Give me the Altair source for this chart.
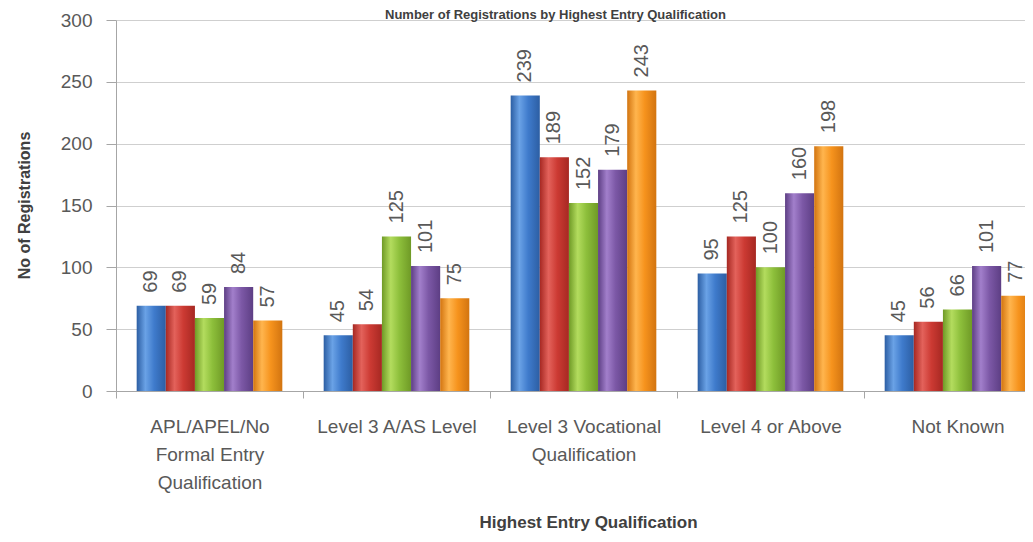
import altair as alt
import pandas as pd

categories = [
    "APL/APEL/No\nFormal Entry\nQualification",
    "Level 3 A/AS Level",
    "Level 3 Vocational\nQualification",
    "Level 4 or Above",
    "Not Known",
]
series = ["2006/07", "2007/08", "2008/09", "2009/10", "2010/11"]
s1 = [69, 45, 239, 95, 45]
s2 = [69, 54, 189, 125, 56]
s3 = [59, 125, 152, 100, 66]
s4 = [84, 101, 179, 160, 101]
s5 = [57, 75, 243, 198, 77]
# (edge, light, mid) shades per series
shades = [
    ("#2c5ea3", "#6aa2e6", "#3f7bcc"),
    ("#a62822", "#e3625b", "#cc3a33"),
    ("#6f9a26", "#b3dc5e", "#8dbf3b"),
    ("#5d3e84", "#a27fcb", "#7c58a6"),
    ("#d27410", "#ffb54e", "#f6931d"),
]
y_ticks = [0, 50, 100, 150, 200, 250, 300]

rows = []
for name, vals in zip(series, [s1, s2, s3, s4, s5]):
    for cat, v in zip(categories, vals):
        rows.append({"category": cat, "series": name, "value": v})
df = pd.DataFrame(rows)

FONT = "Liberation Sans, Arial, sans-serif"
GREY = "#595959"

x_enc = alt.X(
    "category:N",
    sort=categories,
    scale=alt.Scale(range=[0, 935], paddingInner=0, paddingOuter=0),
    axis=alt.Axis(
        title="Highest Entry Qualification",
        labelAngle=0,
        labelExpr="split(datum.label, '\\n')",
        labelFont=FONT,
        labelFontSize=19,
        labelColor=GREY,
        labelLineHeight=28,
        labelPadding=19,
        labelBaseline="top",
        tickBand="extent",
        tickSize=7,
        tickColor="#a6a6a6",
        domainColor="#a6a6a6",
        titleFont=FONT,
        titleFontSize=17,
        titleFontWeight="bold",
        titleColor="#404040",
        titleX=472,
        titleY=131,
        titleAlign="center",
        titleBaseline="middle",
    ),
)
xo_enc = alt.XOffset(
    "series:N", sort=series, scale=alt.Scale(domain=series, paddingInner=0, paddingOuter=0.71)
)
y_enc = alt.Y(
    "value:Q",
    scale=alt.Scale(domain=[0, 300], nice=False),
    axis=alt.Axis(
        title="No of Registrations",
        values=y_ticks,
        labelFont=FONT,
        labelFontSize=19,
        labelColor=GREY,
        labelPadding=14,
        tickSize=10,
        tickColor="#a6a6a6",
        domainColor="#a6a6a6",
        gridColor="#cfcfcf",
        titleFont=FONT,
        titleFontSize=16,
        titleFontWeight="bold",
        titleColor="#404040",
        titleX=-92,
        titleY=185,
        titleAlign="center",
        titleBaseline="middle",
    ),
)

base = alt.Chart(df)
layers = []
for name, (edge, light, mid) in zip(series, shades):
    grad = alt.LinearGradient(
        gradient="linear",
        x1=0, y1=0, x2=1, y2=0,
        stops=[
            alt.GradientStop(color=edge, offset=0),
            alt.GradientStop(color=light, offset=0.3),
            alt.GradientStop(color=mid, offset=0.6),
            alt.GradientStop(color=edge, offset=1),
        ],
    )
    layers.append(
        base.transform_filter(alt.datum.series == name)
        .mark_bar(clip=True, color=grad)
        .encode(x=x_enc, xOffset=xo_enc, y=y_enc)
    )

labels = base.mark_text(
    angle=270, align="left", baseline="middle", dx=13, fontSize=20, font=FONT,
    color=GREY
).encode(x=x_enc, xOffset=xo_enc, y=y_enc, text=alt.Text("value:Q"))

chart = (
    alt.layer(*layers, labels)
    .properties(
        width=909,
        height=371,
        autosize=alt.AutoSizeParams(type="none"),
        padding={"left": 108, "top": 12, "right": 0, "bottom": 143},
        title=alt.TitleParams(
            "Number of Registrations by Highest Entry Qualification",
            fontSize=13, fontWeight="bold", color="#404040", font=FONT,
            anchor="middle", dx=-15, dy=12, offset=1,
        ),
        background="white",
    )
    .configure_view(strokeWidth=0)
)

chart.save("out.html", embed_options={"renderer": "svg", "actions": False})
